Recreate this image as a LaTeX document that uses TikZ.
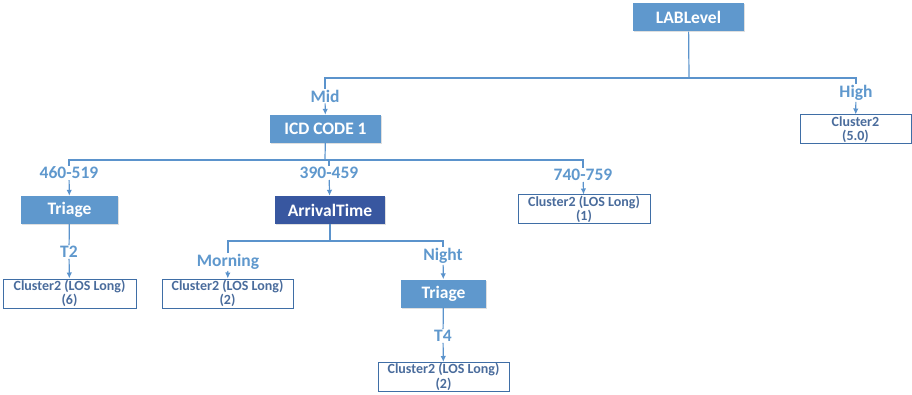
\documentclass[tikz,border=0pt]{standalone}
\usepackage{fontspec}
\setmainfont{Carlito}
\usetikzlibrary{shadows,arrows.meta}
\definecolor{nodeblue}{HTML}{5F98CD}
\definecolor{darkblue}{HTML}{3857A0}
\definecolor{linkblue}{HTML}{5B93CC}
\definecolor{leafblue}{HTML}{3F6EA6}
\definecolor{leaftext}{HTML}{4A6C9C}
\begin{document}
\begin{tikzpicture}[x=1pt,y=-1pt,
    split/.style={fill=nodeblue,text=white,font=\fontsize{17.5}{17.5}\selectfont\bfseries,
        minimum height=28pt,inner sep=0pt,
        drop shadow={opacity=0.25,shadow xshift=1pt,shadow yshift=-1pt}},
    leaf/.style={draw=leafblue,line width=1pt,text=leaftext,
        font=\fontsize{14}{14.5}\selectfont\bfseries,align=center,
        minimum height=29pt,inner sep=0pt},
    branch/.style={text=nodeblue,font=\fontsize{17.5}{17.5}\selectfont\bfseries,inner sep=1pt},
    link/.style={draw=linkblue,line width=1.2pt},
    tip/.style={link,-{Latex[length=6pt,width=5.5pt]}}]
    \useasboundingbox (0,0) rectangle (912,395);
    % nodes
    \node[split,minimum width=111pt] (lab) at (688.5,17.5) {LABLevel};
    \node[branch] (mid) at (325,96) {Mid};
    \node[branch] (high) at (856,93) {High};
    \node[split,minimum width=111pt] (icd) at (325.5,129) {ICD CODE 1};
    \node[leaf,minimum width=111pt] (c50) at (855.5,129.5) {Cluster2\\(5.0)};
    \node[branch] (r1) at (69,173) {460-519};
    \node[branch] (r2) at (329,173) {390-459};
    \node[branch] (r3) at (583,175) {740-759};
    \node[split,minimum width=97pt] (tri1) at (69.5,210) {Triage};
    \node[split,fill=darkblue,minimum width=110pt] (arr) at (330,210) {ArrivalTime};
    \node[leaf,minimum width=132pt] (c1) at (584,209.5) {Cluster2 (LOS Long)\\(1)};
    \node[branch] (t2) at (69,252) {T2};
    \node[branch] (morn) at (228,262) {Morning};
    \node[branch] (night) at (443,256) {Night};
    \node[leaf,minimum width=133pt] (c6) at (69.5,293.5) {Cluster2 (LOS Long)\\(6)};
    \node[leaf,minimum width=131pt] (c2a) at (227.5,293.5) {Cluster2 (LOS Long)\\(2)};
    \node[split,minimum width=85pt] (tri2) at (443.5,293.5) {Triage};
    \node[branch] (t4) at (443,336) {T4};
    \node[leaf,minimum width=131pt] (c2b) at (443.5,377) {Cluster2 (LOS Long)\\(2)};
    % buses
    \coordinate (labbus) at (689,78);
    \coordinate (icdbus) at (325,160);
    \coordinate (arrbus) at (330,241);
    \draw[link] (lab) -- (labbus);
    \draw[link] (mid.north) |- (labbus) -| (high.north);
    \draw[link] (icd) -- (icdbus);
    \draw[link] (r1.north) |- (icdbus) -| (r3.north);
    \draw[link] (r2.north) -- (r2.north |- icdbus);
    \draw[link] (arr) -- (arrbus);
    \draw[link] (morn.north) |- (arrbus) -| (night.north);
    \draw[link] (tri1) -- (t2);
    \draw[link] (tri2) -- (t4);
    % arrows
    \draw[tip] (mid) -- (icd);
    \draw[tip] (high) -- (c50);
    \draw[tip] (r1) -- (tri1);
    \draw[tip] (r2) -- (arr);
    \draw[tip] (r3) -- (c1);
    \draw[tip] (t2) -- (c6);
    \draw[tip] (morn) -- (c2a);
    \draw[tip] (night) -- (tri2);
    \draw[tip] (t4) -- (c2b);
\end{tikzpicture}
\end{document}
